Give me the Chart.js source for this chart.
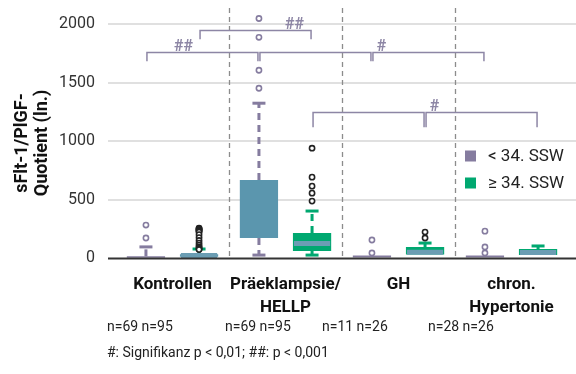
<!DOCTYPE html>
<html>
<head>
<meta charset="utf-8">
<script src="https://cdn.jsdelivr.net/npm/chart.js@4.4.1/dist/chart.umd.min.js"></script>
<style>
  html, body { margin: 0; padding: 0; background: #fff; }
  #wrap { width: 576px; height: 374px; }
</style>
</head>
<body>
<div id="wrap"><canvas id="boxChart"></canvas></div>
<script>
// categories and tick labels
const categoryLabels = [['Kontrollen'], ['Präeklampsie/', 'HELLP'], ['GH'], ['chron.', 'Hypertonie']];
const seriesLabels = ['< 34. SSW', '≥ 34. SSW'];
const yTicks = [0, 500, 1000, 1500, 2000];

// < 34. SSW
const earlyMin = [0, 25, 2, 2];
const earlyQ1 = [2, 171, 4, 4];
const earlyMedian = [5, 380, 10, 10];
const earlyQ3 = [14, 667, 22, 22];
const earlyMax = [95, 1325, 22, 22];
const earlyOutliers = [[171, 282], [1453, 1607, 1889, 2050], [43, 154], [43, 94, 230]];

// >= 34. SSW
const lateMin = [0, 25, 17, 15];
const lateQ1 = [10, 60, 30, 26];
const lateMedian = [22, 125, 50, 48];
const lateQ3 = [32, 214, 94, 77];
const lateMax = [77, 402, 128, 103];
const lateOutliers = [
  [256, 251, 246, 241, 236, 230, 222, 200, 175, 150, 128, 110, 96, 86, 78, 72],
  [487, 555, 615, 692, 940],
  [171, 222],
  []
];

// sample sizes
const nEarly = [69, 69, 11, 28];
const nLate = [95, 95, 26, 26];

// significance brackets: [category, series] pairs, levels in data units
const brackets = [
  { from: [0, 0], to: [1, 0], level: 1760, drop: 1684, label: '##', at: 0.33 },
  { from: [1, 0], to: [2, 0], level: 1760, drop: 1684, label: '', at: 0 },
  { from: [2, 0], to: [3, 0], level: 1760, drop: 1684, label: '#', at: 0.04 },
  { from: [0, 1], to: [1, 1], level: 1949, drop: 1872, label: '##', at: 0.85 },
  { from: [1, 1], to: [2, 1], level: 1248, drop: 1120, label: '', at: 0 },
  { from: [2, 1], to: [3, 1], level: 1248, drop: 1120, label: '#', at: 0.04 }
];

const PURPLE = '#857c9f';
const GREEN = '#00a870';
const TEAL = '#5b96ae';
const BRACKET = '#8d86a5';
const FONT = "Roboto, 'Liberation Sans', sans-serif";

const earlyBoxColors = [PURPLE, TEAL, PURPLE, PURPLE];
const lateBoxColors = [TEAL, GREEN, GREEN, GREEN];
const nLabelX = [107, 225, 322, 428];

function line(ctx, x1, y1, x2, y2) {
  ctx.beginPath();
  ctx.moveTo(x1, y1);
  ctx.lineTo(x2, y2);
  ctx.stroke();
}

const boxExtras = {
  id: 'boxExtras',
  beforeDatasetsDraw(chart) {
    const { ctx, chartArea, scales: { x, y } } = chart;
    ctx.save();
    // horizontal grid lines, a bit wider than the plot
    ctx.strokeStyle = '#d6d6d6';
    ctx.lineWidth = 1.5;
    yTicks.forEach(v => {
      if (v === 0) return;
      const py = Math.round(y.getPixelForValue(v));
      line(ctx, 108, py, chart.width, py);
    });
    // dashed separators between groups
    ctx.strokeStyle = '#8c8c8c';
    ctx.lineWidth = 1.3;
    ctx.setLineDash([5, 4]);
    for (let i = 0; i < categoryLabels.length - 1; i++) {
      const px = Math.round((x.getPixelForValue(i) + x.getPixelForValue(i + 1)) / 2) + 0.5;
      line(ctx, px, chartArea.top, px, chartArea.bottom);
    }
    ctx.restore();
  },
  afterDatasetsDraw(chart) {
    const { ctx, scales: { y } } = chart;
    const series = [
      { min: earlyMin, q1: earlyQ1, med: earlyMedian, q3: earlyQ3, max: earlyMax, out: earlyOutliers, color: PURPLE, outColor: PURPLE, showMedian: false },
      { min: lateMin, q1: lateQ1, med: lateMedian, q3: lateQ3, max: lateMax, out: lateOutliers, color: GREEN, outColor: '#222', showMedian: true }
    ];
    ctx.save();
    series.forEach((s, si) => {
      const meta = chart.getDatasetMeta(si);
      meta.data.forEach((el, i) => {
        const cx = el.x;
        const w = el.width;
        ctx.strokeStyle = s.color;
        ctx.lineWidth = 3;
        // whiskers
        const yq3 = y.getPixelForValue(s.q3[i]);
        const ymax = y.getPixelForValue(s.max[i]);
        const yq1 = y.getPixelForValue(s.q1[i]);
        const ymin = y.getPixelForValue(s.min[i]);
        if (yq3 - ymax > 2) {
          ctx.setLineDash([7, 5]);
          line(ctx, cx, yq3, cx, ymax);
          ctx.setLineDash([]);
          line(ctx, cx - 6.5, ymax, cx + 6.5, ymax);
        }
        if (ymin - yq1 > 2) {
          ctx.setLineDash([7, 5]);
          line(ctx, cx, yq1, cx, ymin);
          ctx.setLineDash([]);
          line(ctx, cx - 6.5, ymin, cx + 6.5, ymin);
        }
        // median band
        if (s.showMedian) {
          ctx.strokeStyle = '#6b9db3';
          ctx.lineWidth = 5;
          const ym = y.getPixelForValue(s.med[i]);
          line(ctx, cx - w / 2 + 1, ym, cx + w / 2 - 1, ym);
        }
        // outliers
        ctx.strokeStyle = s.outColor;
        ctx.lineWidth = 1.6;
        s.out[i].forEach(v => {
          ctx.beginPath();
          ctx.arc(cx, y.getPixelForValue(v), 2.6, 0, Math.PI * 2);
          ctx.fillStyle = '#fff';
          ctx.fill();
          ctx.stroke();
        });
      });
    });

    // zero line
    ctx.strokeStyle = '#333';
    ctx.lineWidth = 2;
    const y0 = y.getPixelForValue(0) + 0.5;
    line(ctx, 108, y0, chart.width, y0);

    // significance brackets
    ctx.strokeStyle = BRACKET;
    ctx.fillStyle = BRACKET;
    ctx.lineWidth = 1.5;
    ctx.font = 'bold 16px ' + FONT;
    ctx.textAlign = 'center';
    ctx.textBaseline = 'alphabetic';
    brackets.forEach(b => {
      const x1 = chart.getDatasetMeta(b.from[1]).data[b.from[0]].x + 1;
      const x2 = chart.getDatasetMeta(b.to[1]).data[b.to[0]].x - 1;
      const yl = Math.round(y.getPixelForValue(b.level)) + 0.5;
      const yd = y.getPixelForValue(b.drop);
      ctx.beginPath();
      ctx.moveTo(x1, yd);
      ctx.lineTo(x1, yl);
      ctx.lineTo(x2, yl);
      ctx.lineTo(x2, yd);
      ctx.stroke();
      if (b.label) {
        const lx = x1 + (x2 - x1) * b.at + (b.at < 0.1 ? 4 : 0);
        ctx.fillText(b.label, lx, yl - 2);
      }
    });

    // legend
    const legendColors = [PURPLE, GREEN];
    ctx.font = '17px ' + FONT;
    ctx.textAlign = 'left';
    ctx.textBaseline = 'middle';
    seriesLabels.forEach((lab, k) => {
      const ly = 156 + k * 27;
      ctx.fillStyle = legendColors[k];
      ctx.fillRect(465, ly - 5.5, 11, 11);
      ctx.fillStyle = '#222';
      ctx.fillText(lab, 488, ly + 1);
    });

    // y axis title
    ctx.save();
    ctx.translate(32, 143);
    ctx.rotate(-Math.PI / 2);
    ctx.fillStyle = '#111';
    ctx.font = 'bold 18px ' + FONT;
    ctx.textAlign = 'center';
    ctx.textBaseline = 'middle';
    ctx.fillText('sFlt-1/PlGF-', 0, -10);
    ctx.fillText('Quotient (ln.)', 0, 10);
    ctx.restore();

    // sample sizes and footnote
    ctx.fillStyle = '#222';
    ctx.font = '14px ' + FONT;
    ctx.textAlign = 'left';
    ctx.textBaseline = 'alphabetic';
    nEarly.forEach((n, i) => {
      ctx.fillText('n=' + n + ' n=' + nLate[i], nLabelX[i], 331);
    });
    ctx.fillText('#: Signifikanz p < 0,01; ##: p < 0,001', 107, 357);
    ctx.restore();
  }
};

new Chart(document.getElementById('boxChart'), {
  type: 'bar',
  data: {
    labels: categoryLabels,
    datasets: [
      {
        label: seriesLabels[0],
        data: earlyQ1.map((q, i) => [q, earlyQ3[i]]),
        backgroundColor: earlyBoxColors,
        borderWidth: 0,
        barPercentage: 0.72,
        categoryPercentage: 0.94
      },
      {
        label: seriesLabels[1],
        data: lateQ1.map((q, i) => [q, lateQ3[i]]),
        backgroundColor: lateBoxColors,
        borderWidth: 0,
        barPercentage: 0.72,
        categoryPercentage: 0.94
      }
    ]
  },
  options: {
    responsive: true,
    maintainAspectRatio: false,
    animation: false,
    layout: { padding: { top: 8, right: 8, left: 0, bottom: 0 } },
    plugins: {
      legend: { display: false },
      tooltip: { enabled: false }
    },
    scales: {
      x: {
        grid: { display: false, drawTicks: false },
        border: { display: false },
        ticks: {
          color: '#111',
          padding: 15,
          maxRotation: 0,
          autoSkip: false,
          font: { family: FONT, size: 17, weight: 'bold', lineHeight: 1.35 }
        },
        afterFit(scale) {
          scale.height = 116;
          scale.paddingLeft = 0;
          scale.paddingRight = 0;
        }
      },
      y: {
        min: 0,
        max: 2140,
        grid: { display: false, drawTicks: false },
        border: { display: false },
        afterBuildTicks(scale) { scale.ticks = yTicks.map(v => ({ value: v })); },
        ticks: {
          color: '#333',
          padding: 21,
          font: { family: FONT, size: 16 },
          callback: v => String(v)
        },
        afterFit(scale) {
          scale.width = 116;
          scale.paddingTop = 0;
          scale.paddingBottom = 0;
        }
      }
    }
  },
  plugins: [boxExtras]
});
</script>
</body>
</html>
